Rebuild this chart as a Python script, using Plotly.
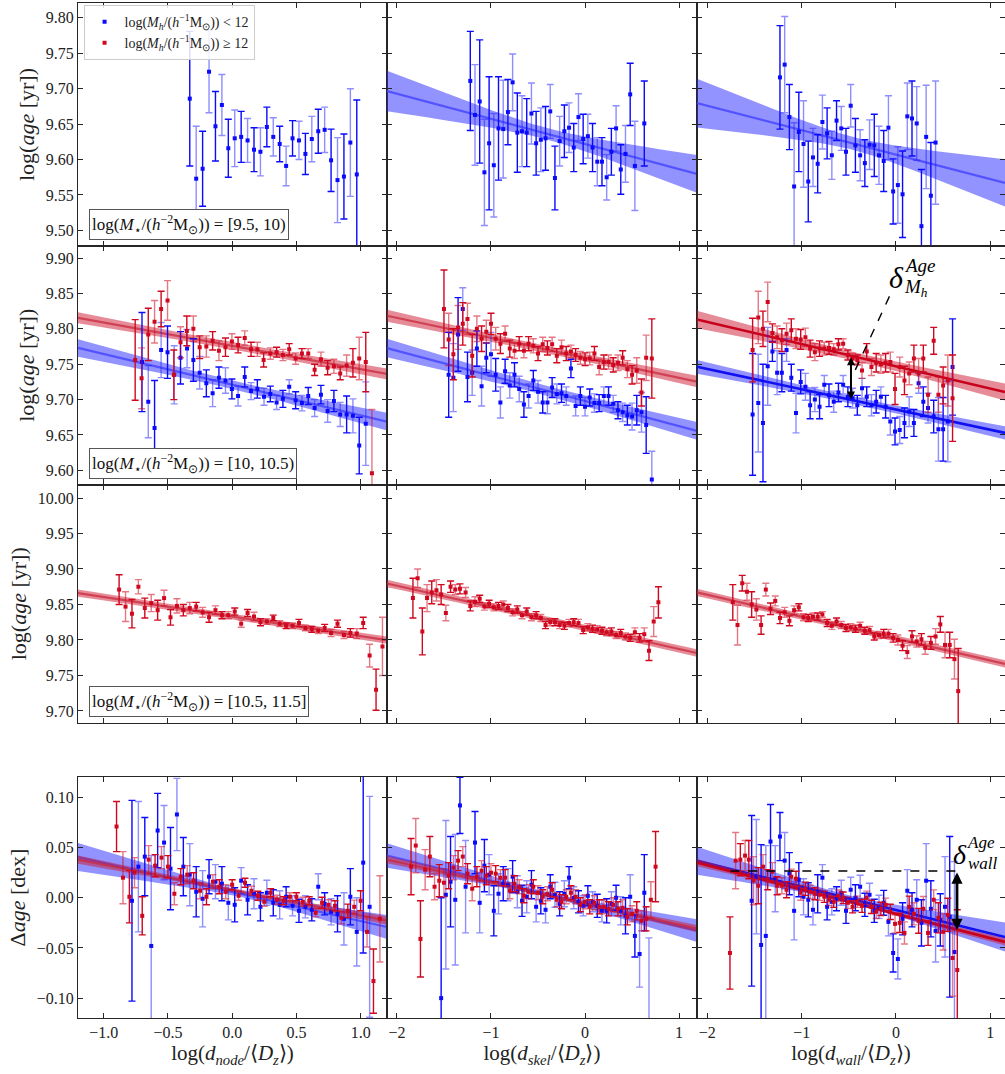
import numpy as np
import plotly.graph_objects as go

# ---------------- data ----------------
# Row 1: log(M*) = [9.5, 10)
r1c1_blue_x = [-0.33,-0.28,-0.23,-0.18,-0.13,-0.08,-0.03,0.02,0.07,0.12,0.17,0.22,0.27,0.32,0.37,0.42,0.47,0.52,0.57,0.62,0.67,0.72,0.77,0.82,0.87,0.92,0.97]
r1c1_blue_y = [9.686,9.573,9.587,9.724,9.647,9.677,9.616,9.630,9.632,9.627,9.614,9.611,9.646,9.632,9.622,9.591,9.630,9.627,9.608,9.629,9.640,9.642,9.599,9.571,9.576,9.624,9.579]
r1c1_blue_e = [0.095,0.074,0.053,0.058,0.049,0.043,0.041,0.040,0.036,0.031,0.031,0.034,0.028,0.027,0.025,0.028,0.025,0.027,0.029,0.032,0.031,0.032,0.044,0.060,0.060,0.076,0.105]

r1c2_blue_x = [-1.22,-1.17,-1.12,-1.07,-1.02,-0.97,-0.92,-0.87,-0.82,-0.77,-0.72,-0.67,-0.62,-0.57,-0.52,-0.47,-0.42,-0.37,-0.32,-0.27,-0.22,-0.17,-0.12,-0.07,-0.02,0.03,0.08,0.13,0.18,0.23,0.28,0.33,0.38,0.43,0.48,0.53,0.63]
r1c2_blue_y = [9.711,9.663,9.682,9.582,9.623,9.592,9.644,9.643,9.667,9.709,9.638,9.640,9.638,9.665,9.623,9.628,9.630,9.668,9.574,9.626,9.640,9.645,9.617,9.660,9.629,9.633,9.617,9.597,9.597,9.575,9.611,9.644,9.586,9.608,9.692,9.591,9.651]
r1c2_blue_e = [0.070,0.071,0.087,0.075,0.094,0.073,0.073,0.069,0.046,0.040,0.056,0.050,0.048,0.043,0.045,0.045,0.045,0.038,0.045,0.035,0.037,0.035,0.034,0.033,0.035,0.031,0.034,0.034,0.034,0.032,0.033,0.032,0.035,0.040,0.044,0.063,0.060]

r1c3_blue_x = [-1.23,-1.18,-1.13,-1.08,-1.03,-0.98,-0.93,-0.88,-0.83,-0.78,-0.73,-0.68,-0.63,-0.58,-0.53,-0.48,-0.43,-0.38,-0.33,-0.28,-0.23,-0.18,-0.13,-0.08,-0.03,0.02,0.07,0.12,0.17,0.22,0.27,0.32,0.37,0.42]
r1c3_blue_y = [9.716,9.734,9.660,9.562,9.639,9.622,9.569,9.603,9.594,9.653,9.637,9.606,9.655,9.644,9.611,9.676,9.620,9.606,9.595,9.621,9.620,9.606,9.598,9.645,9.555,9.564,9.551,9.661,9.658,9.651,9.506,9.632,9.549,9.624]
r1c3_blue_e = [0.073,0.068,0.046,0.090,0.056,0.061,0.057,0.041,0.041,0.038,0.036,0.034,0.028,0.031,0.033,0.030,0.038,0.036,0.033,0.035,0.044,0.041,0.043,0.045,0.046,0.054,0.061,0.047,0.053,0.052,0.080,0.073,0.075,0.087]

# Row 2: log(M*) = [10, 10.5)
r2c1_red_x = [-0.755,-0.705,-0.653,-0.604,-0.553,-0.503,-0.454,-0.402,-0.353,-0.302,-0.253,-0.201,-0.152,-0.103,-0.052,-0.002,0.046,0.098,0.147,0.196,0.245,0.297,0.346,0.395,0.444,0.494,0.543,0.592,0.642,0.691,0.743,0.792,0.841,0.891,0.940,0.989,1.040,1.088]
r2c1_red_y = [9.756,9.730,9.792,9.810,9.828,9.840,9.735,9.781,9.797,9.800,9.774,9.775,9.783,9.769,9.774,9.782,9.777,9.787,9.771,9.771,9.756,9.765,9.767,9.763,9.771,9.758,9.765,9.765,9.742,9.757,9.745,9.747,9.737,9.748,9.752,9.758,9.753,9.596]
r2c1_red_e = [0.057,0.043,0.037,0.030,0.025,0.028,0.035,0.022,0.021,0.018,0.016,0.015,0.013,0.014,0.013,0.011,0.011,0.010,0.010,0.010,0.010,0.008,0.007,0.008,0.008,0.008,0.007,0.007,0.008,0.010,0.010,0.010,0.009,0.015,0.020,0.030,0.042,0.090]
r2c1_blue_x = [-0.702,-0.653,-0.604,-0.553,-0.503,-0.451,-0.402,-0.351,-0.302,-0.253,-0.201,-0.152,-0.103,-0.052,-0.002,0.046,0.098,0.147,0.196,0.248,0.297,0.346,0.395,0.444,0.494,0.543,0.592,0.642,0.691,0.743,0.792,0.841,0.891,0.940,0.989,1.040]
r2c1_blue_y = [9.753,9.697,9.660,9.770,9.767,9.735,9.759,9.772,9.756,9.738,9.723,9.709,9.731,9.727,9.715,9.705,9.732,9.712,9.715,9.704,9.708,9.696,9.701,9.718,9.699,9.695,9.705,9.688,9.707,9.684,9.698,9.679,9.679,9.677,9.635,9.666]
r2c1_blue_e = [0.070,0.051,0.067,0.039,0.037,0.041,0.037,0.027,0.030,0.023,0.019,0.019,0.015,0.018,0.014,0.014,0.014,0.012,0.013,0.012,0.011,0.010,0.012,0.010,0.012,0.011,0.012,0.012,0.013,0.016,0.015,0.017,0.026,0.024,0.040,0.059]

r2c2_red_x = [-1.50,-1.45,-1.40,-1.35,-1.30,-1.25,-1.20,-1.15,-1.10,-1.05,-1.00,-0.95,-0.90,-0.85,-0.80,-0.75,-0.70,-0.65,-0.60,-0.55,-0.50,-0.45,-0.40,-0.35,-0.30,-0.25,-0.20,-0.15,-0.10,-0.05,0.00,0.05,0.10,0.15,0.20,0.25,0.30,0.35,0.40,0.45,0.50,0.55,0.60,0.65,0.71]
r2c2_red_y = [9.828,9.785,9.764,9.802,9.807,9.814,9.762,9.800,9.786,9.796,9.807,9.786,9.779,9.793,9.772,9.769,9.779,9.769,9.779,9.776,9.765,9.778,9.773,9.778,9.762,9.774,9.765,9.768,9.763,9.759,9.757,9.758,9.765,9.746,9.753,9.753,9.749,9.752,9.759,9.743,9.735,9.741,9.710,9.759,9.758]
r2c2_red_e = [0.055,0.037,0.036,0.031,0.030,0.022,0.030,0.018,0.018,0.016,0.015,0.016,0.014,0.011,0.012,0.011,0.010,0.010,0.010,0.010,0.010,0.010,0.010,0.010,0.010,0.010,0.010,0.009,0.009,0.009,0.009,0.009,0.010,0.011,0.010,0.010,0.010,0.011,0.010,0.012,0.013,0.018,0.019,0.032,0.056]
r2c2_blue_x = [-1.45,-1.40,-1.35,-1.30,-1.25,-1.20,-1.15,-1.10,-1.05,-1.00,-0.95,-0.90,-0.85,-0.80,-0.75,-0.70,-0.65,-0.60,-0.55,-0.50,-0.45,-0.40,-0.35,-0.30,-0.25,-0.20,-0.15,-0.10,-0.05,0.00,0.05,0.10,0.15,0.20,0.25,0.30,0.35,0.40,0.45,0.50,0.55,0.60,0.65,0.71]
r2c2_blue_y = [9.735,9.731,9.792,9.828,9.732,9.738,9.772,9.719,9.759,9.764,9.735,9.696,9.740,9.720,9.735,9.715,9.693,9.705,9.727,9.711,9.696,9.696,9.717,9.708,9.709,9.705,9.744,9.691,9.705,9.690,9.703,9.695,9.695,9.705,9.705,9.694,9.685,9.682,9.678,9.676,9.685,9.682,9.664,9.587]
r2c2_blue_e = [0.060,0.048,0.052,0.030,0.035,0.032,0.025,0.028,0.021,0.031,0.023,0.022,0.017,0.018,0.017,0.018,0.018,0.017,0.014,0.016,0.015,0.016,0.014,0.014,0.013,0.013,0.013,0.014,0.013,0.013,0.012,0.013,0.012,0.013,0.013,0.012,0.012,0.013,0.014,0.019,0.021,0.028,0.040,0.040]

r2c3_x = [-1.52,-1.46,-1.41,-1.36,-1.31,-1.26,-1.21,-1.16,-1.11,-1.06,-1.01,-0.96,-0.91,-0.86,-0.81,-0.76,-0.71,-0.66,-0.61,-0.56,-0.51,-0.46,-0.41,-0.36,-0.31,-0.26,-0.21,-0.16,-0.11,-0.06,-0.01,0.04,0.09,0.14,0.19,0.24,0.29,0.34,0.40,0.45,0.50,0.55,0.60]
r2c3_red_y = [9.770,9.816,9.800,9.838,9.794,9.788,9.784,9.793,9.798,9.786,9.785,9.788,9.772,9.767,9.772,9.772,9.773,9.771,9.778,9.779,9.763,9.758,9.756,9.741,9.768,9.746,9.752,9.750,9.752,9.753,9.715,9.746,9.727,9.737,9.758,9.737,9.758,9.707,9.783,9.707,9.720,9.727,9.702]
r2c3_red_e = [0.045,0.037,0.025,0.028,0.013,0.016,0.016,0.015,0.016,0.014,0.014,0.013,0.012,0.012,0.011,0.009,0.009,0.008,0.008,0.007,0.007,0.007,0.007,0.011,0.011,0.012,0.013,0.013,0.013,0.014,0.022,0.014,0.020,0.016,0.019,0.021,0.019,0.025,0.019,0.025,0.026,0.036,0.061]
r2c3_blue_y = [9.679,9.695,9.667,9.747,9.768,9.738,9.738,9.770,9.731,9.681,9.725,9.718,9.692,9.700,9.690,9.721,9.706,9.697,9.710,9.721,9.704,9.702,9.692,9.716,9.704,9.692,9.697,9.704,9.690,9.669,9.655,9.657,9.667,9.683,9.667,9.723,9.697,9.688,9.676,9.658,9.658,9.669,9.746]
r2c3_blue_e = [0.086,0.069,0.083,0.055,0.014,0.031,0.027,0.016,0.019,0.028,0.017,0.019,0.019,0.017,0.017,0.013,0.016,0.015,0.013,0.013,0.014,0.014,0.014,0.014,0.014,0.015,0.016,0.014,0.016,0.019,0.019,0.019,0.021,0.021,0.019,0.014,0.021,0.021,0.023,0.045,0.045,0.057,0.068]

# Row 3: log(M*) = [10.5, 11.5]
r3c1_red_x = [-0.88,-0.83,-0.78,-0.73,-0.68,-0.63,-0.58,-0.53,-0.48,-0.43,-0.38,-0.33,-0.28,-0.23,-0.18,-0.13,-0.08,-0.03,0.02,0.07,0.12,0.17,0.22,0.27,0.32,0.37,0.42,0.47,0.52,0.57,0.62,0.67,0.72,0.77,0.82,0.87,0.92,0.97,1.02,1.07,1.12,1.17]
r3c1_red_y = [9.871,9.847,9.837,9.875,9.845,9.852,9.842,9.859,9.832,9.848,9.842,9.845,9.847,9.839,9.832,9.842,9.835,9.835,9.840,9.823,9.838,9.833,9.825,9.826,9.831,9.823,9.820,9.820,9.824,9.817,9.815,9.813,9.817,9.810,9.823,9.807,9.810,9.809,9.824,9.778,9.730,9.791]
r3c1_red_e = [0.021,0.021,0.020,0.010,0.014,0.012,0.014,0.011,0.011,0.010,0.008,0.008,0.006,0.007,0.007,0.006,0.005,0.005,0.005,0.005,0.005,0.006,0.005,0.004,0.004,0.004,0.004,0.004,0.005,0.004,0.004,0.004,0.005,0.005,0.005,0.005,0.006,0.007,0.008,0.016,0.029,0.041]

r3c2_red_x = [-1.83,-1.78,-1.73,-1.68,-1.63,-1.58,-1.53,-1.48,-1.43,-1.38,-1.33,-1.27,-1.22,-1.17,-1.12,-1.07,-1.02,-0.97,-0.92,-0.87,-0.82,-0.77,-0.72,-0.67,-0.62,-0.57,-0.52,-0.47,-0.42,-0.37,-0.32,-0.27,-0.22,-0.17,-0.12,-0.07,-0.02,0.03,0.08,0.13,0.18,0.23,0.28,0.33,0.38,0.43,0.48,0.53,0.58,0.63,0.68,0.73,0.78]
r3c2_red_y = [9.859,9.887,9.812,9.859,9.867,9.870,9.864,9.838,9.875,9.871,9.872,9.867,9.848,9.854,9.858,9.847,9.851,9.846,9.848,9.850,9.845,9.839,9.843,9.835,9.840,9.832,9.835,9.831,9.821,9.825,9.825,9.821,9.820,9.824,9.825,9.824,9.814,9.818,9.816,9.815,9.813,9.811,9.812,9.807,9.810,9.805,9.803,9.811,9.803,9.808,9.785,9.826,9.853]
r3c2_red_e = [0.028,0.013,0.033,0.019,0.016,0.015,0.014,0.011,0.008,0.007,0.007,0.007,0.007,0.007,0.005,0.005,0.005,0.005,0.005,0.005,0.005,0.005,0.005,0.005,0.005,0.005,0.005,0.005,0.005,0.005,0.005,0.005,0.005,0.005,0.005,0.005,0.005,0.005,0.005,0.005,0.005,0.005,0.005,0.005,0.005,0.005,0.005,0.006,0.006,0.009,0.014,0.021,0.022]

r3c3_red_x = [-1.73,-1.68,-1.63,-1.58,-1.53,-1.48,-1.43,-1.38,-1.33,-1.28,-1.23,-1.18,-1.13,-1.08,-1.03,-0.98,-0.93,-0.88,-0.83,-0.78,-0.73,-0.68,-0.63,-0.58,-0.53,-0.48,-0.43,-0.38,-0.33,-0.28,-0.23,-0.18,-0.13,-0.08,-0.03,0.02,0.07,0.12,0.17,0.22,0.27,0.31,0.37,0.42,0.47,0.52,0.57,0.62,0.66]
r3c3_red_y = [9.853,9.821,9.880,9.868,9.850,9.843,9.821,9.871,9.844,9.855,9.831,9.839,9.827,9.842,9.846,9.832,9.831,9.833,9.833,9.836,9.824,9.820,9.826,9.821,9.817,9.818,9.816,9.820,9.813,9.814,9.805,9.807,9.809,9.809,9.803,9.800,9.792,9.783,9.805,9.798,9.801,9.789,9.796,9.805,9.822,9.793,9.793,9.773,9.728]
r3c3_red_e = [0.025,0.028,0.011,0.012,0.018,0.015,0.013,0.009,0.008,0.007,0.008,0.007,0.007,0.006,0.005,0.005,0.005,0.005,0.005,0.004,0.005,0.005,0.005,0.005,0.005,0.005,0.005,0.005,0.005,0.005,0.005,0.005,0.006,0.006,0.006,0.007,0.007,0.009,0.008,0.008,0.008,0.009,0.009,0.011,0.011,0.018,0.018,0.028,0.060]

# Row 4: residuals (Delta age)
r4c1_red_x = [-0.90,-0.85,-0.80,-0.76,-0.70,-0.65,-0.60,-0.55,-0.50,-0.45,-0.40,-0.35,-0.30,-0.25,-0.20,-0.15,-0.10,-0.05,0.00,0.05,0.10,0.15,0.20,0.25,0.30,0.35,0.40,0.45,0.50,0.55,0.60,0.65,0.70,0.75,0.80,0.85,0.90,0.95,1.00,1.05,1.10,1.15]
r4c1_red_y = [0.071,0.020,0.001,0.025,-0.018,0.038,0.032,0.040,0.031,0.004,0.021,0.023,0.017,0.007,0.001,0.016,0.011,0.006,0.013,0.002,0.015,0.007,0.002,-0.004,0.005,-0.002,-0.003,0.001,0.001,-0.004,-0.003,-0.015,-0.005,-0.007,-0.008,-0.020,-0.013,-0.009,-0.003,-0.034,-0.083,-0.021]
r4c1_red_e = [0.025,0.026,0.026,0.015,0.019,0.014,0.011,0.011,0.011,0.011,0.008,0.009,0.008,0.008,0.008,0.007,0.007,0.007,0.005,0.0045,0.0045,0.0045,0.0045,0.0045,0.004,0.0045,0.004,0.004,0.004,0.0045,0.004,0.004,0.0055,0.005,0.005,0.006,0.0067,0.0067,0.010,0.015,0.032,0.043]
r4c1_blue_x = [-0.78,-0.73,-0.68,-0.63,-0.58,-0.53,-0.48,-0.43,-0.38,-0.33,-0.28,-0.23,-0.18,-0.13,-0.08,-0.03,0.02,0.07,0.12,0.17,0.22,0.27,0.32,0.37,0.42,0.47,0.52,0.57,0.62,0.67,0.72,0.77,0.82,0.87,0.92,0.97,1.02,1.07]
r4c1_blue_y = [-0.003,0.031,0.041,-0.048,0.067,0.055,0.029,0.083,0.031,0.023,0.006,-0.001,0.021,0.016,0.014,-0.005,-0.007,0.017,-0.002,0.004,-0.009,0.005,-0.005,-0.007,0.001,-0.008,-0.013,-0.009,-0.012,0.011,-0.006,-0.014,-0.016,-0.021,0.001,-0.034,0.035,-0.009]
r4c1_blue_e = [0.100,0.065,0.039,0.090,0.037,0.037,0.041,0.036,0.029,0.031,0.025,0.028,0.017,0.017,0.017,0.017,0.017,0.013,0.015,0.015,0.014,0.0125,0.013,0.014,0.010,0.010,0.0115,0.011,0.011,0.013,0.011,0.013,0.018,0.026,0.028,0.034,0.090,0.110]

r4c2_red_x = [-1.85,-1.80,-1.75,-1.70,-1.65,-1.60,-1.55,-1.50,-1.45,-1.40,-1.35,-1.30,-1.25,-1.20,-1.15,-1.10,-1.05,-1.00,-0.95,-0.90,-0.85,-0.80,-0.75,-0.70,-0.65,-0.60,-0.55,-0.50,-0.45,-0.40,-0.35,-0.30,-0.25,-0.20,-0.15,-0.10,-0.05,0.00,0.05,0.10,0.15,0.20,0.25,0.30,0.35,0.40,0.45,0.50,0.55,0.60,0.65,0.70,0.75]
r4c2_red_y = [0.031,0.052,-0.041,0.028,0.041,0.011,0.017,0.015,0.022,0.030,0.037,0.041,0.024,0.009,0.021,0.027,0.022,0.025,0.024,0.020,0.020,0.007,0.014,0.011,0.002,0.006,0.011,0.005,0.001,0.004,0.008,-0.002,-0.004,0.001,0.005,0.001,-0.007,-0.004,-0.009,-0.005,-0.009,-0.009,-0.011,-0.007,-0.011,-0.010,-0.019,-0.016,-0.013,-0.023,-0.021,-0.002,0.031]
r4c2_red_e = [0.028,0.027,0.038,0.020,0.020,0.013,0.016,0.014,0.013,0.012,0.010,0.010,0.010,0.012,0.010,0.010,0.009,0.009,0.008,0.008,0.008,0.008,0.008,0.007,0.007,0.007,0.007,0.007,0.007,0.007,0.007,0.007,0.007,0.007,0.007,0.007,0.007,0.007,0.007,0.007,0.007,0.007,0.007,0.007,0.007,0.008,0.008,0.008,0.009,0.010,0.012,0.018,0.035]
r4c2_blue_x = [-1.53,-1.48,-1.43,-1.38,-1.33,-1.27,-1.17,-1.12,-1.07,-1.02,-0.97,-0.92,-0.87,-0.82,-0.77,-0.72,-0.67,-0.62,-0.57,-0.52,-0.47,-0.42,-0.37,-0.32,-0.27,-0.22,-0.17,-0.12,-0.07,-0.02,0.03,0.08,0.13,0.18,0.23,0.28,0.33,0.38,0.43,0.48,0.53,0.58,0.63,0.68]
r4c2_blue_y = [-0.100,0.003,0.016,-0.002,0.092,0.011,0.055,-0.005,0.032,0.023,-0.013,0.004,0.014,0.013,0.021,0.006,-0.003,0.001,0.013,-0.009,-0.003,-0.012,0.011,0.003,-0.006,0.004,0.020,0.000,-0.004,-0.008,0.002,-0.004,-0.008,-0.013,-0.013,-0.006,0.000,-0.013,-0.018,0.001,-0.038,-0.056,0.005,-0.125]
r4c2_blue_e = [0.100,0.074,0.045,0.065,0.028,0.046,0.031,0.030,0.026,0.020,0.025,0.020,0.017,0.016,0.016,0.016,0.0155,0.016,0.014,0.015,0.013,0.013,0.012,0.0125,0.012,0.013,0.011,0.011,0.011,0.010,0.010,0.010,0.0115,0.011,0.012,0.012,0.0125,0.014,0.018,0.022,0.021,0.033,0.038,0.085]

r4c3_red_x = [-1.76,-1.70,-1.65,-1.60,-1.56,-1.51,-1.46,-1.41,-1.36,-1.31,-1.26,-1.21,-1.16,-1.11,-1.06,-1.01,-0.96,-0.91,-0.86,-0.81,-0.76,-0.71,-0.66,-0.61,-0.56,-0.51,-0.46,-0.41,-0.36,-0.31,-0.26,-0.21,-0.16,-0.11,-0.06,-0.01,0.04,0.09,0.14,0.19,0.24,0.29,0.34,0.40,0.45,0.50,0.55,0.60,0.65]
r4c3_red_y = [-0.055,0.037,0.038,0.042,0.038,0.017,0.012,0.031,0.018,0.026,0.012,0.012,0.008,0.021,0.019,0.005,0.009,0.006,0.004,0.003,0.001,-0.002,-0.004,0.002,0.000,-0.005,-0.009,-0.004,-0.008,0.000,-0.009,-0.014,-0.011,-0.007,-0.014,-0.026,-0.025,-0.035,-0.009,-0.016,-0.023,-0.011,-0.035,-0.002,-0.020,-0.034,-0.017,-0.060,-0.072]
r4c3_red_e = [0.036,0.028,0.016,0.015,0.019,0.024,0.018,0.012,0.010,0.009,0.009,0.008,0.008,0.0075,0.0075,0.0075,0.0066,0.0066,0.006,0.0056,0.0056,0.0058,0.0056,0.0058,0.0058,0.0058,0.006,0.0056,0.0066,0.0066,0.0066,0.0066,0.0066,0.0066,0.0076,0.009,0.0096,0.011,0.0106,0.011,0.0124,0.0122,0.0124,0.0099,0.015,0.018,0.0165,0.038,0.060]
r4c3_blue_x = [-1.53,-1.48,-1.43,-1.38,-1.33,-1.28,-1.23,-1.18,-1.13,-1.08,-1.03,-0.98,-0.93,-0.88,-0.83,-0.78,-0.73,-0.68,-0.63,-0.58,-0.53,-0.48,-0.43,-0.38,-0.33,-0.28,-0.23,-0.18,-0.13,-0.08,-0.03,0.02,0.07,0.12,0.17,0.22,0.27,0.32,0.37,0.42,0.47,0.52,0.57,0.62]
r4c3_blue_y = [-0.003,0.021,-0.047,-0.038,0.056,0.019,0.061,0.037,0.024,-0.013,0.018,0.001,-0.002,-0.012,0.004,0.020,-0.009,-0.004,-0.001,0.005,-0.013,0.008,0.000,0.011,-0.007,0.003,-0.013,-0.009,-0.005,-0.024,-0.055,-0.061,-0.021,0.007,-0.012,-0.002,-0.025,0.017,-0.011,-0.033,-0.022,-0.009,-0.019,-0.054]
r4c3_blue_e = [0.085,0.057,0.100,0.090,0.037,0.033,0.024,0.028,0.021,0.029,0.017,0.018,0.017,0.015,0.019,0.013,0.013,0.013,0.012,0.0125,0.0125,0.0125,0.013,0.0115,0.0115,0.0115,0.0115,0.0115,0.0124,0.014,0.019,0.020,0.016,0.021,0.017,0.020,0.023,0.037,0.028,0.031,0.026,0.050,0.080,0.090]

# Linear fits: (intercept at x=0, slope, sigma_intercept, sigma_slope, pivot)
fit_r1c2_blue = (9.622, -0.0355, 0.008, 0.016, -0.4)
fit_r1c3_blue = (9.607, -0.0345, 0.009, 0.020, -0.45)
fit_r2c1_red = (9.776, -0.0330, 0.005, 0.005, 0.0)
fit_r2c1_blue = (9.721, -0.0433, 0.006, 0.009, 0.0)
fit_r2c2_red = (9.759, -0.0282, 0.005, 0.004, -0.4)
fit_r2c2_blue = (9.698, -0.0355, 0.007, 0.0065, -0.4)
fit_r2c3_red = (9.747, -0.0314, 0.006, 0.0065, -0.45)
fit_r2c3_blue = (9.686, -0.0286, 0.005, 0.005, -0.45)
fit_r3c1_red = (9.833, -0.0275, 0.004, 0.0025, 0.0)
fit_r3c2_red = (9.817, -0.0297, 0.004, 0.002, -0.5)
fit_r3c3_red = (9.802, -0.0308, 0.004, 0.002, -0.5)
fit_r4c1_red = (0.0077, -0.0253, 0.002, 0.003, 0.0)
fit_r4c1_blue = (0.0058, -0.0290, 0.003, 0.0105, 0.1)
fit_r4c2_red = (-0.0059, -0.0209, 0.0015, 0.002, -0.4)
fit_r4c2_blue = (-0.0057, -0.0227, 0.002, 0.007, -0.4)
fit_r4c3_red = (-0.0160, -0.0242, 0.0015, 0.002, -0.5)
fit_r4c3_blue = (-0.0122, -0.0233, 0.003, 0.0085, -0.5)

stellar_mass_bins = ['[9.5, 10)', '[10, 10.5)', '[10.5, 11.5]']
legend_labels = ['log(<i>M<sub>h</sub></i>/(<i>h</i><sup>−1</sup>M<sub>⊙</sub>)) < 12',
                 'log(<i>M<sub>h</sub></i>/(<i>h</i><sup>−1</sup>M<sub>⊙</sub>)) ≥ 12']

# ---------------- styling ----------------
FONT = 'Liberation Serif'
BLUE = '#0a0aff'
BLUE_LIGHT = 'rgba(30,30,255,0.5)'
RED = '#d0081f'
RED_LIGHT = 'rgba(208,8,31,0.55)'
BLUE_BAND = 'rgba(40,40,255,0.5)'
RED_BAND = 'rgba(205,25,50,0.5)'
BLUE_FIT = 'rgba(70,70,255,0.85)'
RED_FIT = 'rgba(200,40,60,0.75)'

xranges = {1: [-1.2, 1.205], 2: [-2.106, 1.19], 3: [-2.11, 1.156]}
yranges = {1: [9.478, 9.821], 2: [9.58, 9.917], 3: [9.683, 10.019], 4: [-0.1198, 0.1203]}
xdom = {1: [0, 0.3333], 2: [0.3333, 0.6677], 3: [0.6677, 1.0]}
ydom = {1: [0.7606, 1.0], 2: [0.5256, 0.7606], 3: [0.2906, 0.5256], 4: [0.0, 0.2374]}
yticks = {1: [9.50, 9.55, 9.60, 9.65, 9.70, 9.75, 9.80],
          2: [9.60, 9.65, 9.70, 9.75, 9.80, 9.85, 9.90],
          3: [9.70, 9.75, 9.80, 9.85, 9.90, 9.95, 10.00],
          4: [-0.10, -0.05, 0.0, 0.05, 0.10]}
xticks = {1: [-1.0, -0.5, 0.0, 0.5, 1.0], 2: [-2, -1, 0, 1], 3: [-2, -1, 0, 1]}
xtitles = {1: 'log(<i>d</i><sub><i>node</i></sub>/⟨<i>D</i><sub><i>z</i></sub>⟩)',
           2: 'log(<i>d</i><sub><i>skel</i></sub>/⟨<i>D</i><sub><i>z</i></sub>⟩)',
           3: 'log(<i>d</i><sub><i>wall</i></sub>/⟨<i>D</i><sub><i>z</i></sub>⟩)'}


def ax_ids(r, c):
    k = (r - 1) * 3 + c
    s = '' if k == 1 else str(k)
    return 'x' + s, 'y' + s


fig = go.Figure()


def add_fit(r, c, fit, band, linec, lw=2.2):
    xa, ya = ax_ids(r, c)
    a, b, sa, sb, xp = fit
    xs = np.linspace(xranges[c][0], xranges[c][1], 80)
    ys = a + b * xs
    hw = np.sqrt(sa ** 2 + (sb * (xs - xp)) ** 2)
    fig.add_trace(go.Scatter(x=np.concatenate([xs, xs[::-1]]),
                             y=np.concatenate([ys + hw, (ys - hw)[::-1]]),
                             fill='toself', fillcolor=band, line=dict(width=0),
                             mode='lines', hoverinfo='skip', showlegend=False,
                             xaxis=xa, yaxis=ya))
    fig.add_trace(go.Scatter(x=xs, y=ys, mode='lines', line=dict(color=linec, width=lw),
                             hoverinfo='skip', showlegend=False, xaxis=xa, yaxis=ya))


def add_points(r, c, x, y, e, color, light, legend_name=None):
    xa, ya = ax_ids(r, c)
    x = np.asarray(x); y = np.asarray(y); e = np.asarray(e)
    for i, (sl, ec) in enumerate(((slice(0, None, 2), color), (slice(1, None, 2), light))):
        fig.add_trace(go.Scatter(x=x[sl], y=y[sl], mode='markers',
                                 marker=dict(color=color, size=4, symbol='square'),
                                 error_y=dict(type='data', array=e[sl], color=ec,
                                              thickness=1.4, width=3.5),
                                 name=legend_name if legend_name else '',
                                 showlegend=(legend_name is not None and i == 0),
                                 xaxis=xa, yaxis=ya))


# fits (blue first so that red lies above)
add_fit(1, 2, fit_r1c2_blue, BLUE_BAND, BLUE_FIT)
add_fit(1, 3, fit_r1c3_blue, BLUE_BAND, BLUE_FIT)
add_fit(2, 1, fit_r2c1_blue, BLUE_BAND, BLUE_FIT)
add_fit(2, 1, fit_r2c1_red, RED_BAND, RED_FIT)
add_fit(2, 2, fit_r2c2_blue, BLUE_BAND, BLUE_FIT)
add_fit(2, 2, fit_r2c2_red, RED_BAND, RED_FIT)
add_fit(2, 3, fit_r2c3_blue, BLUE_BAND, '#1010f0', 2.6)
add_fit(2, 3, fit_r2c3_red, RED_BAND, '#c8001c', 2.6)
add_fit(3, 1, fit_r3c1_red, RED_BAND, RED_FIT)
add_fit(3, 2, fit_r3c2_red, RED_BAND, RED_FIT)
add_fit(3, 3, fit_r3c3_red, RED_BAND, RED_FIT)
add_fit(4, 1, fit_r4c1_blue, BLUE_BAND, BLUE_FIT)
add_fit(4, 1, fit_r4c1_red, RED_BAND, RED_FIT)
add_fit(4, 2, fit_r4c2_blue, BLUE_BAND, BLUE_FIT)
add_fit(4, 2, fit_r4c2_red, RED_BAND, RED_FIT)
add_fit(4, 3, fit_r4c3_blue, BLUE_BAND, '#1010f0', 2.6)
add_fit(4, 3, fit_r4c3_red, RED_BAND, '#c8001c', 2.6)

# data points
add_points(1, 1, r1c1_blue_x, r1c1_blue_y, r1c1_blue_e, BLUE, BLUE_LIGHT, legend_labels[0])
add_points(1, 2, r1c2_blue_x, r1c2_blue_y, r1c2_blue_e, BLUE, BLUE_LIGHT)
add_points(1, 3, r1c3_blue_x, r1c3_blue_y, r1c3_blue_e, BLUE, BLUE_LIGHT)
add_points(2, 1, r2c1_blue_x, r2c1_blue_y, r2c1_blue_e, BLUE, BLUE_LIGHT)
add_points(2, 1, r2c1_red_x, r2c1_red_y, r2c1_red_e, RED, RED_LIGHT, legend_labels[1])
add_points(2, 2, r2c2_blue_x, r2c2_blue_y, r2c2_blue_e, BLUE, BLUE_LIGHT)
add_points(2, 2, r2c2_red_x, r2c2_red_y, r2c2_red_e, RED, RED_LIGHT)
add_points(2, 3, r2c3_x, r2c3_blue_y, r2c3_blue_e, BLUE, BLUE_LIGHT)
add_points(2, 3, r2c3_x, r2c3_red_y, r2c3_red_e, RED, RED_LIGHT)
add_points(3, 1, r3c1_red_x, r3c1_red_y, r3c1_red_e, RED, RED_LIGHT)
add_points(3, 2, r3c2_red_x, r3c2_red_y, r3c2_red_e, RED, RED_LIGHT)
add_points(3, 3, r3c3_red_x, r3c3_red_y, r3c3_red_e, RED, RED_LIGHT)
add_points(4, 1, r4c1_blue_x, r4c1_blue_y, r4c1_blue_e, BLUE, BLUE_LIGHT)
add_points(4, 1, r4c1_red_x, r4c1_red_y, r4c1_red_e, RED, RED_LIGHT)
add_points(4, 2, r4c2_blue_x, r4c2_blue_y, r4c2_blue_e, BLUE, BLUE_LIGHT)
add_points(4, 2, r4c2_red_x, r4c2_red_y, r4c2_red_e, RED, RED_LIGHT)
add_points(4, 3, r4c3_blue_x, r4c3_blue_y, r4c3_blue_e, BLUE, BLUE_LIGHT)
add_points(4, 3, r4c3_red_x, r4c3_red_y, r4c3_red_e, RED, RED_LIGHT)

# axes
layout_axes = {}
for r in range(1, 5):
    for c in range(1, 4):
        xa, ya = ax_ids(r, c)
        xkey = 'xaxis' + xa[1:]
        ykey = 'yaxis' + ya[1:]
        common = dict(showline=True, mirror='ticks', linecolor='#262626', linewidth=1.2,
                      ticks='inside', ticklen=5, tickwidth=1, tickcolor='#262626',
                      showgrid=False, zeroline=False, automargin=False,
                      tickfont=dict(family=FONT, size=16, color='#222'))
        xd = dict(common, domain=xdom[c], range=xranges[c], anchor=ya,
                  tickvals=xticks[c], showticklabels=(r == 4))
        if c == 1:
            xd['tickformat'] = '.1f'
        if r == 4:
            xd['title'] = dict(text=xtitles[c], font=dict(family=FONT, size=21, color='#222'), standoff=2)
        yd = dict(common, domain=ydom[r], range=yranges[r], anchor=xa,
                  tickvals=yticks[r], tickformat='.2f', showticklabels=(c == 1))
        if c == 1:
            ytxt = 'Δ<i>age</i> [dex]' if r == 4 else 'log(<i>age</i> [yr])'
            yd['title'] = dict(text=ytxt, font=dict(family=FONT, size=22, color='#222'), standoff=4)
        layout_axes[xkey] = xd
        layout_axes[ykey] = yd

fig.update_layout(**layout_axes)

# stellar-mass bin labels
for r in range(1, 4):
    xa, ya = ax_ids(r, 1)
    fig.add_annotation(xref=xa + ' domain', yref=ya + ' domain', x=0.035, y=0.025,
                       xanchor='left', yanchor='bottom', showarrow=False,
                       text='log(<i>M</i><sub>⋆</sub>/(<i>h</i><sup>−2</sup>M<sub>⊙</sub>)) = ' + stellar_mass_bins[r - 1],
                       font=dict(family=FONT, size=17, color='#111'),
                       bordercolor='#555', borderwidth=1, borderpad=2, bgcolor='white')

# delta_Mh annotation (row 2, col 3)
xa6, ya6 = ax_ids(2, 3)
fig.add_annotation(x=-0.477, y=9.700, ax=-0.477, ay=9.762, xref=xa6, yref=ya6,
                   axref=xa6, ayref=ya6, text='', showarrow=True, arrowhead=2,
                   startarrowhead=2, arrowside='end+start', arrowwidth=2,
                   arrowsize=0.8, startarrowsize=0.8, arrowcolor='black')
fig.add_shape(type='line', xref=xa6, yref=ya6, x0=-0.431, y0=9.742, x1=-0.03, y1=9.857,
              line=dict(color='black', width=1.4, dash='dash'))
fig.add_annotation(x=-0.09, y=9.873, xref=xa6, yref=ya6, text='<i>δ</i>', showarrow=False,
                   xanchor='left', font=dict(family=FONT, size=30, color='black'))
fig.add_annotation(x=0.06, y=9.889, xref=xa6, yref=ya6, text='<i>Age</i>', showarrow=False,
                   xanchor='left', font=dict(family=FONT, size=19, color='black'))
fig.add_annotation(x=0.06, y=9.858, xref=xa6, yref=ya6, text='<i>M<sub>h</sub></i>', showarrow=False,
                   xanchor='left', font=dict(family=FONT, size=19, color='black'))

# delta_wall annotation (row 4, col 3)
xa12, ya12 = ax_ids(4, 3)
fig.add_shape(type='line', xref=xa12, yref=ya12, x0=-1.756, y0=0.0267, x1=0.647, y1=0.0267,
              line=dict(color='black', width=1.6, dash='dash'))
fig.add_annotation(x=0.647, y=-0.032, ax=0.647, ay=0.0267, xref=xa12, yref=ya12,
                   axref=xa12, ayref=ya12, text='', showarrow=True, arrowhead=2,
                   startarrowhead=2, arrowside='end+start', arrowwidth=2.8,
                   arrowsize=0.8, startarrowsize=0.8, arrowcolor='black')
fig.add_annotation(x=0.58, y=0.043, xref=xa12, yref=ya12, text='<i>δ</i>', showarrow=False,
                   xanchor='left', font=dict(family=FONT, size=28, color='black'))
fig.add_annotation(x=0.73, y=0.055, xref=xa12, yref=ya12, text='<i>Age</i>', showarrow=False,
                   xanchor='left', font=dict(family=FONT, size=17, color='black'))
fig.add_annotation(x=0.74, y=0.034, xref=xa12, yref=ya12, text='<i>wall</i>', showarrow=False,
                   xanchor='left', font=dict(family=FONT, size=17, color='black'))

fig.update_layout(
    width=1005, height=1074,
    margin=dict(l=78, r=0, t=3, b=56, autoexpand=False),
    paper_bgcolor='white', plot_bgcolor='white',
    font=dict(family=FONT, color='#222'),
    showlegend=True,
    legend=dict(x=0.006, y=0.998, xanchor='left', yanchor='top',
                bgcolor='rgba(255,255,255,0.85)', bordercolor='#cccccc', borderwidth=1,
                font=dict(family=FONT, size=14, color='#222'), itemwidth=30,
                tracegroupgap=0),
)

fig.write_html('out.html', config={'displayModeBar': False},
               post_script="document.body.style.margin='0px'; document.body.style.overflow='hidden';")
